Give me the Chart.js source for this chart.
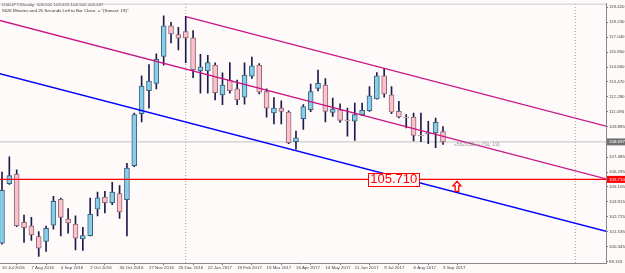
<!DOCTYPE html>
<html lang="en">
  <head>
    <meta charset="UTF-8" />
    <title>USDJPY, Weekly</title>
    <script src="https://cdn.jsdelivr.net/npm/chart.js@4.4.1/dist/chart.umd.min.js"></script>
    <style>
      html, body { margin: 0; padding: 0; background: #fffafa; }
      canvas { display: block; }
    </style>
  </head>
  <body>
    <canvas id="chart" width="625" height="273"></canvas>
    <script>
      // weekly bars, 10 Jul 2016 .. 3 Sep 2017 (index 0..60)
      const openP = [100.63, 105.36, 106.14, 102.29, 102.02, 101.15, 100.76, 102.07, 104.12, 102.55,
        102.15, 100.97, 101.23, 103.33, 104.30, 103.86, 104.57, 104.10, 106.80, 110.95,
        112.78, 113.36, 115.51, 117.95, 117.25, 117.48, 116.98, 114.36, 114.36, 114.81,
        112.44, 113.62, 112.92, 112.25, 113.94, 114.81, 112.70, 111.00, 111.39, 111.07,
        108.71, 110.55, 111.26, 112.96, 113.23, 111.05, 111.26, 110.45, 110.34, 110.87,
        111.18, 112.13, 113.96, 112.44, 111.13, 110.68, 110.68, 109.22, 109.36, 109.42,
        109.511];
      const highP = [106.30, 107.51, 106.48, 102.86, 102.68, 101.55, 101.99, 104.36, 104.22, 103.39,
        102.81, 101.89, 104.22, 104.70, 104.75, 105.48, 105.22, 106.98, 111.00, 113.96,
        114.85, 115.72, 118.74, 118.22, 117.82, 118.69, 117.56, 115.67, 115.59, 114.99,
        114.20, 115.01, 113.62, 114.99, 115.46, 114.93, 112.92, 112.23, 111.97, 111.18,
        109.55, 111.66, 113.30, 114.41, 113.75, 112.18, 111.73, 111.39, 111.78, 111.78,
        113.10, 114.22, 114.54, 113.10, 111.92, 110.87, 110.99, 110.99, 110.34, 110.60,
        109.925];
      const lowP = [100.55, 105.30, 101.94, 100.68, 100.84, 99.58, 99.97, 101.74, 101.21, 101.42,
        100.10, 100.05, 101.20, 102.81, 103.04, 103.70, 102.60, 101.21, 106.72, 110.29,
        111.39, 112.92, 114.81, 116.59, 116.03, 115.01, 113.81, 112.57, 112.57, 112.05,
        111.66, 112.57, 111.66, 111.70, 113.75, 112.52, 110.66, 110.13, 110.13, 108.55,
        108.11, 109.69, 111.10, 112.76, 110.29, 110.73, 110.25, 109.16, 108.82, 110.81,
        111.13, 112.10, 112.25, 110.95, 110.60, 109.81, 108.77, 108.71, 108.55, 108.24,
        108.505];
      const closeP = [104.83, 106.01, 102.02, 101.86, 101.29, 100.24, 101.81, 103.96, 102.68, 102.25,
        101.03, 101.23, 102.92, 104.25, 103.86, 104.70, 103.12, 106.62, 110.87, 113.15,
        113.55, 115.28, 117.95, 117.29, 116.95, 116.98, 114.46, 114.67, 115.01, 112.62,
        113.23, 112.78, 112.05, 114.02, 114.75, 112.65, 111.39, 111.39, 111.13, 108.63,
        109.03, 111.52, 112.70, 113.36, 111.13, 111.31, 110.40, 110.38, 110.87, 111.21,
        112.37, 113.96, 112.52, 111.07, 110.68, 110.62, 109.22, 109.18, 109.42, 110.26,
        108.697];

      // bottom axis labels every 4 weeks
      const dateTicks = [0, 4, 8, 12, 16, 20, 24, 28, 32, 36, 40, 44, 48, 52, 56, 60];
      const dateLabels = ["10 Jul 2016", "7 Aug 2016", "4 Sep 2016", "2 Oct 2016", "30 Oct 2016",
        "27 Nov 2016", "25 Dec 2016", "22 Jan 2017", "19 Feb 2017", "19 Mar 2017", "16 Apr 2017",
        "14 May 2017", "11 Jun 2017", "9 Jul 2017", "6 Aug 2017", "3 Sep 2017"];
      // right axis price labels
      const priceTicks = [119.420, 118.230, 117.040, 115.850, 114.660, 113.470, 112.280, 111.090,
        109.885, 107.485, 106.295, 105.105, 103.915, 102.725, 101.535, 100.345, 99.155];

      // drawn objects: channel lines [week index, price]
      const upperLine = [[25, 118.68], [82.2, 109.95]];
      const middleLine = [[-1, 118.48], [82.2, 105.75]];
      const blueLine = [[-1, 114.23], [82.2, 101.58]];
      const levelPrice = 105.71;
      const lastPrice = 108.697;
      const separators = [25, 78];
      const levelLabelAt = 53.3;
      const arrowAt = [61.9, 105.56];
      const noteAt = [61.5, 108.45];

      const xMin = -0.27, xMax = 82.18, yMin = 99.05, yMax = 119.71;

      const bull = "#87ceeb", bear = "#ffc0cb", wick = "#1c1c4c";
      const isUp = (i) => closeP[i] >= openP[i];

      const toXY = (arr) => arr.map((p) => ({ x: p[0], y: p[1] }));

      const overlay = {
        id: "overlay",
        afterDatasetsDraw(chart) {
          const ctx = chart.ctx;
          const xs = chart.scales.x, ys = chart.scales.y;
          ctx.save();
          // level label box
          const lx = xs.getPixelForValue(levelLabelAt), ly = ys.getPixelForValue(levelPrice);
          ctx.font = "13px 'Liberation Sans', Arial, sans-serif";
          const tw = ctx.measureText("105.710").width;
          ctx.fillStyle = "#fffafa";
          ctx.fillRect(lx - tw / 2 - 2, ly - 6.5, tw + 4, 13);
          ctx.strokeStyle = "#ff0000";
          ctx.lineWidth = 1;
          ctx.strokeRect(Math.round(lx - tw / 2 - 2) + 0.5, Math.round(ly - 6.5) + 0.5, Math.round(tw + 4), 13);
          ctx.fillStyle = "#ff0000";
          ctx.textAlign = "center";
          ctx.textBaseline = "middle";
          ctx.fillText("105.710", lx, ly + 0.5);

          // up arrow
          const ax = xs.getPixelForValue(arrowAt[0]), ay = ys.getPixelForValue(arrowAt[1]);
          ctx.beginPath();
          ctx.moveTo(ax, ay);
          ctx.lineTo(ax + 4, ay + 4.5);
          ctx.lineTo(ax + 1.8, ay + 4.5);
          ctx.lineTo(ax + 1.8, ay + 10);
          ctx.lineTo(ax - 1.8, ay + 10);
          ctx.lineTo(ax - 1.8, ay + 4.5);
          ctx.lineTo(ax - 4, ay + 4.5);
          ctx.closePath();
          ctx.fillStyle = "#fffafa";
          ctx.fill();
          ctx.lineWidth = 1.3;
          ctx.stroke();

          // gray note
          ctx.font = "5px 'Liberation Sans', Arial, sans-serif";
          ctx.fillStyle = "#9a9a9a";
          ctx.textAlign = "left";
          ctx.fillText("«5626.25»» (Sq: 19)", xs.getPixelForValue(noteAt[0]), ys.getPixelForValue(noteAt[1]));

          // header
          ctx.font = "4.4px 'Liberation Sans', Arial, sans-serif";
          ctx.fillStyle = "#333";
          ctx.textBaseline = "middle";
          ctx.fillText("USDJPY,Weekly  109.511 109.925 108.505 108.697", 2, 4.8);
          ctx.fillText('5626 Minutes and 25 Seconds Left to Bar Close. = "(Sonast: 19)"', 2, 11);
          ctx.restore();
        },
        afterDraw(chart) {
          const ctx = chart.ctx;
          const ys = chart.scales.y, a = chart.chartArea;
          ctx.save();
          ctx.strokeStyle = "#c8c8c8";
          ctx.lineWidth = 1;
          ctx.beginPath();
          ctx.moveTo(0, a.top + 0.5);
          ctx.lineTo(a.right, a.top + 0.5);
          ctx.stroke();
          const tag = (price, bg) => {
            const y = ys.getPixelForValue(price);
            ctx.fillStyle = bg;
            ctx.fillRect(a.right + 1, y - 3.5, 19, 7);
            ctx.fillStyle = "#ffffff";
            ctx.font = "4.4px 'Liberation Sans', Arial, sans-serif";
            ctx.textAlign = "left";
            ctx.textBaseline = "middle";
            ctx.fillText(price.toFixed(3), a.right + 3, y);
          };
          tag(lastPrice, "#707070");
          tag(levelPrice, "#ff0000");
          ctx.restore();
        },
      };

      const vline = (x) => ({
        type: "line",
        data: [{ x: x, y: yMin }, { x: x, y: yMax }],
        borderColor: "#a0a0a0",
        borderWidth: 1,
        borderDash: [1, 2],
        pointRadius: 0,
        order: 5,
      });

      const chart = new Chart(document.getElementById("chart"), {
        type: "bar",
        data: {
          datasets: [
            vline(separators[0]),
            vline(separators[1]),
            {
              type: "line",
              data: [{ x: xMin, y: lastPrice }, { x: xMax, y: lastPrice }],
              borderColor: "#c0c0c0",
              borderWidth: 1,
              pointRadius: 0,
              order: 4,
            },
            {
              label: "wick",
              data: highP.map((h, i) => ({ x: i, y: [lowP[i], h] })),
              backgroundColor: wick,
              barThickness: 1,
              grouped: false,
              order: 3,
            },
            {
              label: "body",
              data: openP.map((o, i) => ({ x: i, y: [o, closeP[i]] })),
              backgroundColor: (c) => (isUp(c.dataIndex) ? bull : bear),
              borderColor: (c) => (isUp(c.dataIndex) ? "#3e5f78" : "#8a6a78"),
              borderWidth: 1,
              borderSkipped: false,
              barThickness: 5,
              grouped: false,
              order: 2,
            },
            {
              type: "line",
              data: toXY(upperLine),
              borderColor: "#c71585",
              borderWidth: 1.4,
              pointRadius: 0,
              order: 1,
            },
            {
              type: "line",
              data: toXY(middleLine),
              borderColor: "#c71585",
              borderWidth: 1.4,
              pointRadius: 0,
              order: 1,
            },
            {
              type: "line",
              data: toXY(blueLine),
              borderColor: "#0000ff",
              borderWidth: 1.4,
              pointRadius: 0,
              order: 1,
            },
            {
              type: "line",
              data: [{ x: xMin, y: levelPrice }, { x: xMax, y: levelPrice }],
              borderColor: "#ff0000",
              borderWidth: 1.4,
              pointRadius: 0,
              order: 1,
            },
          ],
        },
        options: {
          responsive: false,
          animation: false,
          devicePixelRatio: 1,
          layout: { padding: { left: 0, right: 0, top: 1, bottom: 0 } },
          plugins: { legend: { display: false }, tooltip: { enabled: false } },
          scales: {
            x: {
              type: "linear",
              min: xMin,
              max: xMax,
              offset: false,
              grid: { drawOnChartArea: false, drawTicks: true, tickLength: 2, color: "#777" },
              border: { display: true, color: "#888" },
              afterBuildTicks: (s) => { s.ticks = dateTicks.map((v) => ({ value: v })); },
              afterFit: (s) => { s.height = 10; },
              ticks: {
                autoSkip: false,
                maxRotation: 0,
                minRotation: 0,
                align: "start",
                padding: 0,
                color: "#444",
                font: { size: 4.4, family: "'Liberation Sans', Arial, sans-serif" },
                callback: (v) => dateLabels[dateTicks.indexOf(v)],
              },
            },
            y: {
              position: "right",
              min: yMin,
              max: yMax,
              grid: { drawOnChartArea: false, drawTicks: true, tickLength: 2, color: "#777" },
              border: { display: true, color: "#888" },
              afterBuildTicks: (s) => { s.ticks = priceTicks.map((v) => ({ value: v })); },
              afterFit: (s) => { s.width = 19; },
              ticks: {
                autoSkip: false,
                padding: 1,
                color: "#444",
                font: { size: 4.4, family: "'Liberation Sans', Arial, sans-serif" },
                callback: (v) => v.toFixed(3),
              },
            },
          },
        },
        plugins: [overlay],
      });
    </script>
  </body>
</html>
